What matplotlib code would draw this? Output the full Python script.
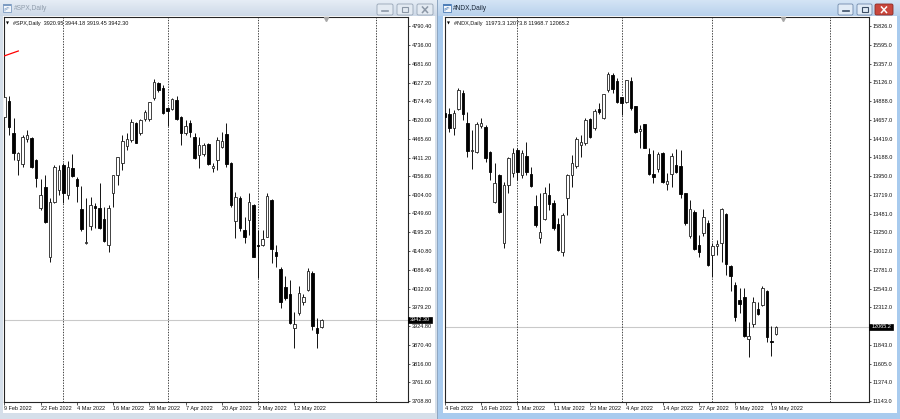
import numpy as np
import matplotlib
matplotlib.use("Agg")
import matplotlib.pyplot as plt
import matplotlib.transforms as mtransforms
from matplotlib.patches import Rectangle, FancyBboxPatch
from matplotlib.colors import LinearSegmentedColormap

plt.rcParams['font.family'] = ['Liberation Sans', 'DejaVu Sans']

# ---- #SPX daily, 9 Feb 2022 .. 20 May 2022 ----
spx_open = [4529.3, 4574.6, 4481.3, 4404.2, 4392.6, 4464.0, 4466.9, 4404.2, 4264.6, 4327.0,
            4124.8, 4283.7, 4317.5, 4389.7, 4303.0, 4380.2, 4348.4, 4261.7, 4163.5, 4213.5,
            4271.3, 4264.6, 4232.8, 4158.6, 4309.7, 4360.8, 4396.4, 4444.6, 4461.9, 4511.9,
            4481.3, 4522.6, 4521.7, 4582.4, 4627.5, 4613.0, 4553.5, 4550.6, 4577.5, 4529.3,
            4481.3, 4511.9, 4469.7, 4418.6, 4421.5, 4450.4, 4380.2, 4404.2, 4442.6, 4479.3,
            4394.6, 4228.8, 4293.5, 4201.9, 4230.8, 4274.2, 4158.0, 4158.6, 4182.6, 4288.6,
            4139.2, 4088.4, 4036.4, 4016.2, 3917.9, 3963.0, 3994.8, 4028.6, 4078.6, 3917.9,
            3920.95]
spx_high = [4594.8, 4589.1, 4524.6, 4428.1, 4476.4, 4490.8, 4470.6, 4407.0, 4348.4, 4360.8,
            4293.5, 4389.7, 4389.7, 4396.4, 4402.1, 4421.5, 4355.9, 4329.0, 4293.5, 4298.1,
            4279.9, 4336.8, 4269.2, 4274.2, 4360.8, 4413.7, 4476.4, 4481.3, 4521.7, 4513.9,
            4521.7, 4548.6, 4572.6, 4637.3, 4629.5, 4620.8, 4558.1, 4584.1, 4589.1, 4531.3,
            4519.7, 4519.7, 4481.3, 4471.5, 4452.4, 4452.4, 4394.6, 4471.5, 4485.9, 4511.9,
            4399.2, 4312.6, 4300.2, 4240.4, 4308.0, 4277.0, 4201.9, 4201.9, 4308.0, 4291.5,
            4158.6, 4095.9, 4069.0, 4057.5, 3965.9, 4040.1, 4017.0, 4091.3, 4084.3, 3946.8,
            3944.18]
spx_low = [4516.8, 4476.4, 4404.2, 4360.8, 4384.8, 4457.0, 4380.2, 4327.0, 4259.7, 4221.3,
           4110.3, 4279.9, 4303.0, 4279.1, 4290.6, 4355.9, 4283.7, 4199.9, 4161.5, 4201.9,
           4206.8, 4204.0, 4168.1, 4139.2, 4269.2, 4331.9, 4375.3, 4433.0, 4456.2, 4452.4,
           4476.4, 4516.8, 4516.8, 4577.5, 4601.5, 4537.1, 4502.4, 4548.6, 4519.7, 4447.5,
           4476.4, 4469.7, 4407.0, 4380.2, 4415.7, 4389.7, 4370.4, 4375.3, 4438.0, 4384.8,
           4269.2, 4178.0, 4199.0, 4163.5, 4187.5, 4123.1, 4062.4, 4154.3, 4180.8, 4105.7,
           4095.9, 3975.7, 3999.7, 3930.4, 3860.2, 3956.4, 3985.3, 4027.1, 3913.0, 3860.2,
           3919.45]
spx_close = [4587.0, 4500.4, 4423.5, 4425.2, 4469.7, 4476.4, 4384.8, 4351.3, 4303.0, 4225.9,
             4283.7, 4383.1, 4375.3, 4308.0, 4383.1, 4357.9, 4329.0, 4204.0, 4166.4, 4274.2,
             4264.6, 4206.8, 4171.0, 4264.6, 4360.8, 4412.0, 4459.9, 4464.0, 4514.8, 4454.1,
             4519.7, 4543.7, 4572.6, 4630.4, 4606.4, 4540.8, 4546.6, 4579.5, 4521.7, 4481.3,
             4502.4, 4485.9, 4409.1, 4446.6, 4447.5, 4392.6, 4386.8, 4461.9, 4459.9, 4392.6,
             4274.2, 4298.1, 4207.7, 4182.6, 4283.7, 4124.8, 4155.7, 4175.1, 4300.2, 4146.2,
             4126.8, 3994.8, 4004.6, 3932.4, 3929.5, 4020.8, 4007.5, 4084.3, 3924.6, 3903.5,
             3942.30]
spx_dates = ["9 Feb 2022", "22 Feb 2022", "4 Mar 2022", "16 Mar 2022", "28 Mar 2022",
             "7 Apr 2022", "20 Apr 2022", "2 May 2022", "12 May 2022"]
spx_month_idx = [13, 36, 56, 82]
spx_ticks = [4790.40, 4736.00, 4681.60, 4627.20, 4574.40, 4520.00, 4465.60, 4411.20, 4356.80,
             4304.00, 4249.60, 4195.20, 4140.80, 4086.40, 4032.00, 3979.20, 3924.80, 3870.40,
             3816.00, 3761.60, 3708.80]
spx_trend_idx = [-0.3, 3.05]
spx_trend_price = [4703.7, 4719.1]

# ---- #NDX daily, 4 Feb 2022 .. 20 May 2022 ----
ndx_open = [14745, 14729, 14550, 14788, 14988, 14613, 14262, 14258, 14579, 14570,
            14258, 13632, 13966, 13112, 13841, 13987, 14279, 13966, 14204, 13979,
            13578, 13174, 13412, 13716, 13612, 13353, 13007, 13675, 13966, 14079,
            14345, 14363, 14663, 14550, 14788, 14675, 15029, 15217, 15142, 14938,
            14883, 15146, 14829, 14520, 14600, 14229, 13979, 14037, 14245, 13850,
            13979, 14091, 14082, 13737, 13203, 13507, 13090, 13237, 13370, 12965,
            13084, 13119, 13478, 12828, 12590, 12403, 12436, 11911, 12102, 12286,
            12340, 12519, 11890, 11973.3]
ndx_high = [14829, 14800, 14779, 15051, 15029, 14758, 14529, 14633, 14675, 14590,
            14265, 14112, 13975, 13879, 14195, 14300, 14300, 14279, 14383, 14070,
            13716, 13745, 13820, 13862, 13653, 13428, 13487, 13975, 14216, 14438,
            14466, 14675, 14675, 14788, 14863, 14985, 15258, 15238, 15176, 14945,
            15160, 15188, 14835, 14592, 14605, 14300, 14279, 14258, 14250, 13987,
            14237, 14288, 14279, 13745, 13653, 13528, 13216, 13537, 13403, 13112,
            13153, 13550, 13485, 12835, 12632, 12549, 12549, 12131, 12436, 12381,
            12578, 12528, 12077, 12073.8]
ndx_low = [14617, 14508, 14466, 14779, 14654, 14195, 14037, 14237, 14550, 14132,
           13904, 13612, 13487, 13049, 13737, 13945, 13904, 13925, 13966, 13820,
           13316, 13119, 13403, 13528, 13278, 13020, 12953, 13466, 13820, 14050,
           14195, 14341, 14425, 14529, 14729, 14663, 15008, 14988, 14863, 14717,
           14863, 14779, 14488, 14300, 14300, 13966, 13862, 14007, 13870, 13779,
           13820, 13987, 13675, 13341, 13174, 13028, 12937, 13203, 12828, 12694,
           12965, 12882, 12715, 12519, 12144, 12236, 11944, 11686, 12069, 12215,
           12328, 11881, 11702, 11968.7]
ndx_close = [14695, 14550, 14738, 15029, 14725, 14270, 14279, 14604, 14613, 14175,
             14007, 13870, 13507, 13841, 14175, 14237, 14007, 14237, 14007, 13832,
             13341, 13257, 13737, 13603, 13299, 13028, 13466, 13966, 14112, 14413,
             14379, 14654, 14445, 14767, 14750, 14979, 15229, 15042, 14883, 14863,
             15154, 14800, 14508, 14538, 14308, 13979, 13945, 14225, 13882, 13891,
             14204, 14007, 13728, 13362, 13537, 13037, 13007, 13444, 12840, 13078,
             13097, 13537, 12853, 12703, 12194, 12353, 11952, 11952, 12381, 12228,
             12549, 11936, 11877, 12065.2]
ndx_dates = ["4 Feb 2022", "16 Feb 2022", "1 Mar 2022", "11 Mar 2022", "23 Mar 2022",
             "4 Apr 2022", "14 Apr 2022", "27 Apr 2022", "9 May 2022", "19 May 2022"]
ndx_month_idx = [16, 39, 59, 85]
ndx_ticks = [15826.0, 15595.0, 15357.0, 15126.0, 14888.0, 14657.0, 14419.0, 14188.0, 13950.0,
             13719.0, 13481.0, 13250.0, 13012.0, 12781.0, 12543.0, 12312.0, 11843.0, 11605.0,
             11374.0, 11143.0]

W, H = 900, 419
fig = plt.figure(figsize=(W / 100, H / 100), dpi=100)

# window chrome, drawn in pixel coordinates
bg = fig.add_axes([0, 0, 1, 1])
bg.set_axis_off()


def rect(x0, y0, x1, y1, fc, ec='none', lw=0, z=1):
    bg.add_patch(Rectangle((x0, y0), x1 - x0, y1 - y0, facecolor=fc, edgecolor=ec, linewidth=lw, zorder=z))


def gradient(x0, x1, y0, y1, top, bottom):
    cmap = LinearSegmentedColormap.from_list('tb', [top, bottom])
    bg.imshow(np.linspace(0, 1, 64).reshape(-1, 1), cmap=cmap, aspect='auto',
              extent=(x0, x1, y1, y0), interpolation='bilinear', zorder=2)


def button(x0, x1, fc, ec, kind, gc):
    bg.add_patch(FancyBboxPatch((x0, 4), x1 - x0, 11, boxstyle='round,pad=0,rounding_size=1.5',
                                facecolor=fc, edgecolor=ec, linewidth=0.6, zorder=3))
    cx = (x0 + x1) / 2
    if kind == 'min':
        bg.plot([cx - 3, cx + 3], [11.5, 11.5], color=gc, lw=1.2, zorder=4)
    elif kind == 'max':
        bg.add_patch(Rectangle((cx - 3, 7), 6, 5, facecolor='none', edgecolor=gc, linewidth=0.8, zorder=4))
    else:
        bg.plot([cx - 2.5, cx + 2.5], [7, 12.5], color=gc, lw=1.1, zorder=4)
        bg.plot([cx - 2.5, cx + 2.5], [12.5, 7], color=gc, lw=1.1, zorder=4)


def icon(x0, edge):
    # small "chart window" icon in the title bar
    rect(x0, 4, x0 + 8, 12, '#f2f6fb', edge, 0.6, z=3)
    rect(x0, 4, x0 + 8, 6, edge, z=3.5)
    bg.plot([x0 + 2, x0 + 2, x0 + 4, x0 + 4, x0 + 6], [11, 8.5, 9.5, 7.5, 8], color=edge, lw=0.5, zorder=4)


# left (inactive) window
rect(0, 0, 437, 419, '#d5dfea')
gradient(0, 437, 0, 16, '#e6edf6', '#cdd9e7')
rect(3, 16, 435, 413, 'white')
icon(3, '#7d9cc2')
button(377, 393, '#e3eaf2', '#97a5b6', 'min', '#8b97a6')
button(397, 413, '#e3eaf2', '#97a5b6', 'max', '#8b97a6')
button(417, 433, '#e3eaf2', '#97a5b6', 'close', '#8b97a6')

# right (active) window
rect(437, 0, 900, 419, '#a9cbee')
rect(436.5, 0, 438, 419, '#8fa7c2', z=1.5)
gradient(438, 900, 0, 16, '#d4e4f5', '#b8d1ec')
rect(443, 16, 897, 413, 'white')
icon(443, '#4f7fb8')
button(838, 853, '#e1ebf6', '#6f89aa', 'min', '#3d4f66')
button(857, 872, '#e1ebf6', '#6f89aa', 'max', '#3d4f66')
button(875, 893, '#c9473d', '#8a2b25', 'close', 'white')

bg.set_xlim(0, W)
bg.set_ylim(H, 0)

bg.text(14, 8.5, '#SPX,Daily', fontsize=4.8, color='#8f9cab', va='center', zorder=5)
bg.text(453, 8.5, '#NDX,Daily', fontsize=4.8, color='#1c2838', va='center', zorder=5)


def draw_chart(box, o, h, l, c, xlim, ylim, ticks, fmt, dates, months, name):
    x0, y0, x1, y1 = box
    ax = fig.add_axes([x0 / W, 1 - y1 / H, (x1 - x0) / W, (y1 - y0) / H])
    o, h, l, c = map(np.asarray, (o, h, l, c))
    idx = np.arange(len(o))

    ax.axhline(c[-1], color='#c9c9c9', lw=0.8, zorder=1)
    for m in months:
        ax.axvline(m, color='#202020', lw=0.6, ls=(0, (1.6, 1.6)), zorder=1)

    ax.vlines(idx, l, h, color='#111111', lw=0.7, zorder=2)
    up = c >= o
    ax.bar(idx[up], (c - o)[up], bottom=o[up], width=0.56, facecolor='white',
           edgecolor='#222222', linewidth=0.6, zorder=3)
    ax.bar(idx[~up], (o - c)[~up], bottom=c[~up], width=0.56, facecolor='black',
           edgecolor='black', linewidth=0.6, zorder=3)

    ax.set_xlim(*xlim)
    ax.set_ylim(*ylim)

    ax.yaxis.tick_right()
    ax.set_yticks(ticks)
    ax.set_yticklabels([fmt % t for t in ticks])
    ax.tick_params(axis='y', direction='out', length=1.5, width=0.5, pad=1.3, labelsize=4, colors='#111111')
    ax.set_xticks(np.arange(len(dates)) * 8)
    ax.set_xticklabels(dates, ha='left')
    ax.tick_params(axis='x', direction='out', length=2, width=0.5, pad=0.8, labelsize=4, colors='#111111')
    for s in ax.spines.values():
        s.set_color('#252525')
        s.set_linewidth(0.8)

    # current price box on the price scale
    per_px = (ylim[1] - ylim[0]) / (y1 - y0)
    trans = mtransforms.blended_transform_factory(ax.transAxes, ax.transData)
    ax.add_patch(Rectangle((1.0, c[-1] - 2.8 * per_px), 24 / (x1 - x0), 5.6 * per_px, transform=trans,
                           facecolor='black', edgecolor='black', linewidth=0.5, clip_on=False, zorder=6))
    ax.text(1.0 + 12 / (x1 - x0), c[-1], fmt % c[-1], transform=trans, color='white', fontsize=4,
            ha='center', va='center', clip_on=False, zorder=7)

    # chart shift marker
    ax.plot([0.797], [0.994], marker='v', ms=3, color='#a8a8a8', transform=ax.transAxes,
            clip_on=False, zorder=5)

    # header: symbol + last bar OHLC
    ax.text(2 / (x1 - x0), 1 - 6 / (y1 - y0), '\u25bc', transform=ax.transAxes, fontsize=2.8,
            va='center', ha='left', family=['DejaVu Sans'], zorder=5)
    ax.text(9 / (x1 - x0), 1 - 6 / (y1 - y0),
            '%s  %s %s %s %s' % (name, fmt % o[-1], fmt % h[-1], fmt % l[-1], fmt % c[-1]),
            transform=ax.transAxes, fontsize=4, va='center', ha='left', color='#111111', zorder=5)
    return ax


ax1 = draw_chart((4, 17, 408, 402), spx_open, spx_high, spx_low, spx_close,
                 (-0.11, 89.1), (3705.0, 4817.3), spx_ticks, '%.2f', spx_dates, spx_month_idx, '#SPX,Daily')
ax1.plot(spx_trend_idx, spx_trend_price, color='red', lw=0.9, zorder=4)

ax2 = draw_chart((444.7, 17, 869, 402), ndx_open, ndx_high, ndx_low, ndx_close,
                 (-0.02, 93.5), (11126.8, 15942.4), ndx_ticks, '%.1f', ndx_dates, ndx_month_idx, '#NDX,Daily')

fig.savefig('out.png', dpi=100)
